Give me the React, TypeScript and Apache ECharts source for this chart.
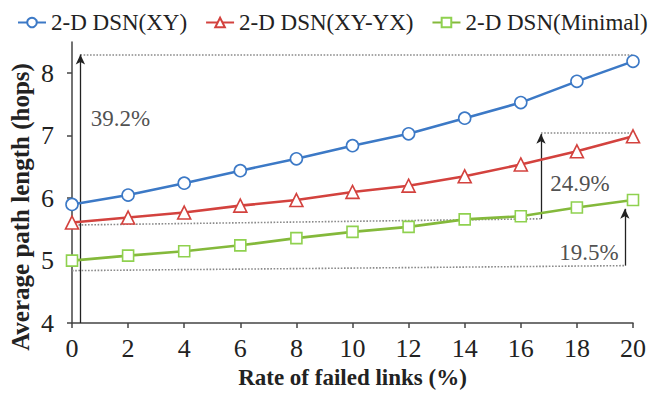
import React, { useEffect, useRef } from "react";
import * as echarts from "echarts";

const xValues = [0, 2, 4, 6, 8, 10, 12, 14, 16, 18, 20];
const xyValues = [5.9, 6.05, 6.24, 6.44, 6.63, 6.84, 7.03, 7.28, 7.53, 7.87, 8.19];
const xyyxValues = [5.61, 5.69, 5.77, 5.88, 5.97, 6.1, 6.2, 6.35, 6.54, 6.75, 6.99];
const minimalValues = [5.0, 5.08, 5.15, 5.245, 5.36, 5.46, 5.54, 5.66, 5.71, 5.85, 5.97];
const yTicks = [4, 5, 6, 7, 8];
const seriesNames = ["2-D DSN(XY)", "2-D DSN(XY-YX)", "2-D DSN(Minimal)"];

// annotation geometry in data coordinates
const dottedLines = [
  [[0.3, 8.3], [20, 8.3]],
  [[0, 5.57], [16.72, 5.67]],
  [[16.72, 7.04], [20, 7.04]],
  [[0, 4.84], [19.71, 4.92]],
];
const arrows = [
  [[0.3, 4], [0.3, 8.3]],
  [[16.72, 5.67], [16.72, 7.03]],
  [[19.71, 4.92], [19.71, 5.83]],
];
const annotTexts = [
  { x: 1.73, y: 7.28, text: "39.2%" },
  { x: 18.11, y: 6.24, text: "24.9%" },
  { x: 18.43, y: 5.13, text: "19.5%" },
];

const FONT = "Liberation Serif";
const BLUE = "#3c79c6";
const RED = "#d3423e";
const GREEN = "#84b93b";
const GREEN_M = "#8fd14f";

export default function App() {
  const ref = useRef<HTMLDivElement>(null);
  useEffect(() => {
    if (!ref.current) return;
    const chart = echarts.init(ref.current, null, { renderer: "svg" });
    const mk = (name: string, vals: number[], color: string, mColor: string, symbol: string, size: number) => ({
      name,
      type: "line",
      z: 5,
      data: xValues.map((x, i) => [x, vals[i]]),
      symbol,
      symbolSize: size,
      showAllSymbol: true,
      lineStyle: { color, width: 2.6 },
      itemStyle: { color: "#ffffff", borderColor: mColor, borderWidth: 1.6 },
    });
    chart.setOption({
      animation: false,
      textStyle: { fontFamily: FONT },
      grid: { left: 72, right: 19, top: 42, bottom: 63.5 },
      legend: {
        data: seriesNames,
        left: 17,
        top: 11,
        width: 635,
        padding: 0,
        itemWidth: 28,
        itemHeight: 12,
        itemGap: 18,
        textStyle: { fontFamily: FONT, fontSize: 23, color: "#222" },
      },
      xAxis: {
        type: "value",
        min: 0,
        max: 20,
        interval: 2,
        name: "Rate of failed links (%)",
        nameLocation: "middle",
        nameGap: 38,
        nameTextStyle: { fontFamily: FONT, fontSize: 23, fontWeight: "bold", color: "#222" },
        splitLine: { show: false },
        axisLine: { lineStyle: { color: "#444", width: 1.5 } },
        axisTick: { show: true, length: 5, lineStyle: { color: "#444", width: 1.5 } },
        axisLabel: { fontFamily: FONT, fontSize: 26, color: "#222", margin: 12 },
      },
      yAxis: {
        type: "value",
        min: 4,
        max: 8.5,
        interval: 1,
        splitLine: { show: false },
        axisLine: { show: true, lineStyle: { color: "#444", width: 1.5 } },
        axisTick: { show: true, length: 5, customValues: yTicks, lineStyle: { color: "#444", width: 1.5 } },
        axisLabel: {
          fontFamily: FONT,
          fontSize: 26,
          color: "#222",
          margin: 18,
          customValues: yTicks,
          formatter: (v: number) => (Number.isInteger(v) ? String(v) : ""),
        },
      },
      graphic: [
        {
          type: "text",
          x: 20,
          y: 207,
          rotation: Math.PI / 2,
          style: {
            text: "Average path length (hops)",
            fontFamily: FONT,
            fontSize: 25,
            fontWeight: "bold",
            fill: "#222",
            align: "center",
            verticalAlign: "middle",
          },
        },
      ],
      series: [
        mk(seriesNames[0], xyValues, BLUE, BLUE, "circle", 12),
        mk(seriesNames[1], xyyxValues, RED, RED, "triangle", 13),
        mk(seriesNames[2], minimalValues, GREEN, GREEN_M, "rect", 11),
        {
          name: "annot",
          type: "line",
          z: 1,
          data: [],
          silent: true,
          markLine: {
            silent: true,
            animation: false,
            label: { show: false },
            data: [
              ...dottedLines.map((l) => [
                { coord: l[0], symbol: "none", lineStyle: { color: "#8a8a8a", type: "dotted", width: 1.6 } },
                { coord: l[1], symbol: "none" },
              ]),
              ...arrows.map((l) => [
                { coord: l[0], symbol: "none", lineStyle: { color: "#222", type: "solid", width: 1.3 } },
                { coord: l[1], symbol: "arrow", symbolSize: [7, 10] },
              ]),
            ],
          },
        },
        {
          name: "annotText",
          type: "scatter",
          z: 6,
          symbolSize: 0,
          silent: true,
          data: annotTexts.map((a) => ({
            value: [a.x, a.y],
            label: {
              show: true,
              position: "inside",
              formatter: a.text,
              fontFamily: FONT,
              fontSize: 23,
              color: "#222",
            },
          })),
        },
      ],
    });
    return () => chart.dispose();
  }, []);
  return <div ref={ref} style={{ width: 652, height: 394, position: "absolute", left: 0, top: 0 }} />;
}
